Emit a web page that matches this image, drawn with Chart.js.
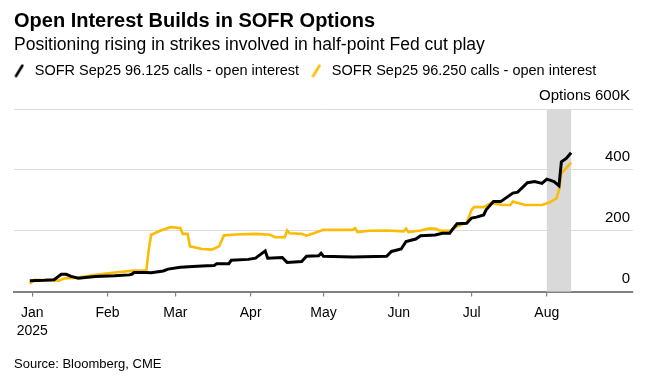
<!DOCTYPE html>
<html>
<head>
<meta charset="utf-8">
<script src="https://cdn.jsdelivr.net/npm/chart.js@4.4.1/dist/chart.umd.min.js"></script>
<style>
html, body { margin: 0; padding: 0; background: #fff; }
</style>
</head>
<body>
<canvas id="chart" width="647" height="384"></canvas>
<script>
const FONT = "'Liberation Sans', Arial, Helvetica, sans-serif";

const titleText = 'Open Interest Builds in SOFR Options';
const subtitleText = 'Positioning rising in strikes involved in half-point Fed cut play';
const sourceText = 'Source: Bloomberg, CME';

const seriesNames = ['SOFR Sep25 96.125 calls - open interest', 'SOFR Sep25 96.250 calls - open interest'];

// SOFR Sep25 96.125 calls, open interest (thousands)
const blackDates = ['2024-12-31','2025-01-06','2025-01-10','2025-01-13','2025-01-15','2025-01-17','2025-01-20','2025-01-27',
	'2025-02-04','2025-02-10','2025-02-11','2025-02-12','2025-02-17','2025-02-19','2025-02-24','2025-02-26',
	'2025-03-03','2025-03-10','2025-03-14','2025-03-17','2025-03-18','2025-03-23','2025-03-24','2025-03-31',
	'2025-04-03','2025-04-07','2025-04-08','2025-04-14','2025-04-16','2025-04-22','2025-04-24','2025-04-29','2025-04-30',
	'2025-05-01','2025-05-13','2025-05-27','2025-05-29',
	'2025-06-02','2025-06-04','2025-06-08','2025-06-10','2025-06-16','2025-06-19','2025-06-22','2025-06-23','2025-06-25','2025-06-29',
	'2025-07-01','2025-07-03','2025-07-06','2025-07-07','2025-07-10','2025-07-13','2025-07-18','2025-07-20','2025-07-24','2025-07-27','2025-07-30',
	'2025-08-01','2025-08-04','2025-08-06','2025-08-07','2025-08-09','2025-08-11'];
const blackValues = [36,37,39,57,57,50,44,50,
	52,55,57,63,63,62,68,74,
	80,83,85,86,92,92,103,106,
	110,134,110,112,96,99,116,118,126,
	116,114,116,132,
	140,165,173,184,186,192,192,203,223,225,
	242,245,252,269,296,296,324,327,358,362,356,
	370,362,348,427,438,457];

// SOFR Sep25 96.250 calls, open interest (thousands)
const goldDates = ['2024-12-31','2025-01-02','2025-01-12','2025-01-14','2025-01-20','2025-01-27',
	'2025-02-04','2025-02-12','2025-02-17','2025-02-18','2025-02-19','2025-02-23','2025-02-27',
	'2025-03-03','2025-03-04','2025-03-06','2025-03-07','2025-03-12','2025-03-16','2025-03-19','2025-03-21','2025-03-26',
	'2025-04-03','2025-04-09','2025-04-11','2025-04-15','2025-04-16','2025-04-17','2025-04-22','2025-04-24','2025-04-27',
	'2025-05-01','2025-05-13','2025-05-14','2025-05-15','2025-05-20','2025-05-27',
	'2025-06-03','2025-06-04','2025-06-05','2025-06-10','2025-06-13','2025-06-16','2025-06-18','2025-06-22','2025-06-25','2025-06-29',
	'2025-07-01','2025-07-02','2025-07-06','2025-07-09','2025-07-14','2025-07-17','2025-07-18','2025-07-23','2025-07-30',
	'2025-08-02','2025-08-05','2025-08-06','2025-08-07','2025-08-11'];
const goldValues = [26,39,36,43,46,55,
	63,69,69,138,187,201,212,
	209,190,190,149,140,138,149,185,188,
	190,187,179,179,201,192,190,184,192,
	203,203,209,196,200,201,
	198,207,196,201,207,207,200,200,214,227,
	269,278,278,291,285,285,296,285,285,
	293,307,334,389,424];

const monthTicks = ['2025-01-01','2025-02-01','2025-03-01','2025-04-01','2025-05-01','2025-06-01','2025-07-01','2025-08-01'];
const monthLabels = [['Jan','2025'],'Feb','Mar','Apr','May','Jun','Jul','Aug'];

const yTicks = [0, 200, 400, 600];
const yTopLabel = 'Options 600K';

const bandStart = '2025-08-01';
const bandEnd = '2025-08-11';

function dayOf(s){
	let p = s.split('-').map(Number);
	return (Date.UTC(p[0], p[1] - 1, p[2]) - Date.UTC(2025, 0, 1)) / 86400000;
}

function points(dates, values){
	return dates.map((d, i) => ({x: dayOf(d), y: values[i]}));
}

function slash(color){
	let c = document.createElement('canvas');
	c.width = 10;
	c.height = 14;
	let g = c.getContext('2d');
	g.strokeStyle = color;
	g.lineWidth = 2.6;
	g.lineCap = 'round';
	g.beginPath();
	g.moveTo(1.8, 12.2);
	g.lineTo(8.2, 1.8);
	g.stroke();
	return c;
}

const BLACK = '#000000';
const GOLD = '#fbbc05';

const tickDays = monthTicks.map(dayOf);

// grey band for the current month
const bandPlugin = {
	id: 'band',
	beforeDatasetsDraw(chart){
		let x = chart.scales.x, y = chart.scales.y;
		let ctx = chart.ctx;
		let x1 = x.getPixelForValue(dayOf(bandStart));
		let x2 = x.getPixelForValue(dayOf(bandEnd));
		let y1 = y.getPixelForValue(600);
		let y2 = y.getPixelForValue(0);
		ctx.save();
		ctx.fillStyle = '#d9d9d9';
		ctx.fillRect(x1, y1, x2 - x1, y2 - y1);
		ctx.restore();
	}
};

// legend sits a little further left than chart.js puts it
const legendShift = {
	id: 'legendShift',
	afterLayout(chart){
		chart.legend.left -= 12;
		chart.legend.top += 1;
	}
};

const sourcePlugin = {
	id: 'source',
	afterDraw(chart){
		let ctx = chart.ctx;
		ctx.save();
		ctx.font = '13px ' + FONT;
		ctx.fillStyle = '#000';
		ctx.textBaseline = 'middle';
		ctx.fillText(sourceText, 14, 364);
		ctx.restore();
	}
};

let ctx = document.getElementById('chart').getContext('2d');

let chart = new Chart(ctx, {
	type: 'line',
	data: {
		datasets: [{
			label: seriesNames[0],
			data: points(blackDates, blackValues),
			borderColor: BLACK,
			backgroundColor: BLACK,
			borderWidth: 3,
			pointRadius: 0,
			pointStyle: slash(BLACK),
			tension: 0
		}, {
			label: seriesNames[1],
			data: points(goldDates, goldValues),
			borderColor: GOLD,
			backgroundColor: GOLD,
			borderWidth: 2.6,
			pointRadius: 0,
			pointStyle: slash(GOLD),
			tension: 0
		}]
	},
	options: {
		responsive: false,
		animation: false,
		layout: {padding: {left: 14, right: 14, top: 0, bottom: 37}},
		plugins: {
			title: {
				display: true,
				text: titleText,
				align: 'start',
				color: '#000',
				font: {family: FONT, size: 20, weight: 'bold'},
				padding: {top: 9, bottom: 0}
			},
			subtitle: {
				display: true,
				text: subtitleText,
				align: 'start',
				color: '#000',
				font: {family: FONT, size: 17.5, lineHeight: 1},
				padding: {top: 3, bottom: 0}
			},
			legend: {
				display: true,
				align: 'start',
				labels: {
					usePointStyle: true,
					pointStyleWidth: 16.5,
					padding: 9,
					color: '#000',
					font: {family: FONT, size: 14.5}
				}
			},
			tooltip: {enabled: false}
		},
		scales: {
			x: {
				type: 'linear',
				min: -7.5,
				max: 247.5,
				afterBuildTicks(axis){
					axis.ticks = tickDays.map(v => ({value: v}));
				},
				grid: {drawOnChartArea: false, drawTicks: true, tickLength: 5, color: '#808080', lineWidth: 1.2},
				border: {display: true, color: '#808080', width: 2},
				ticks: {
					autoSkip: false,
					maxRotation: 0,
					padding: 7,
					color: '#000',
					font: {family: FONT, size: 14, lineHeight: 1.3},
					callback(v){
						let i = tickDays.indexOf(v);
						return i >= 0 ? monthLabels[i] : '';
					}
				}
			},
			y: {
				position: 'right',
				min: 0,
				max: 673,
				afterBuildTicks(axis){
					axis.ticks = yTicks.map(v => ({value: v}));
				},
				grid: {color: '#dcdcdc', lineWidth: 1, drawTicks: false},
				border: {display: false},
				ticks: {
					mirror: true,
					padding: -3,
					labelOffset: -13,
					color: '#000',
					font: {family: FONT, size: 15},
					callback(v){
						return v === 600 ? yTopLabel : v;
					}
				}
			}
		}
	},
	plugins: [bandPlugin, legendShift, sourcePlugin]
});
</script>
</body>
</html>
